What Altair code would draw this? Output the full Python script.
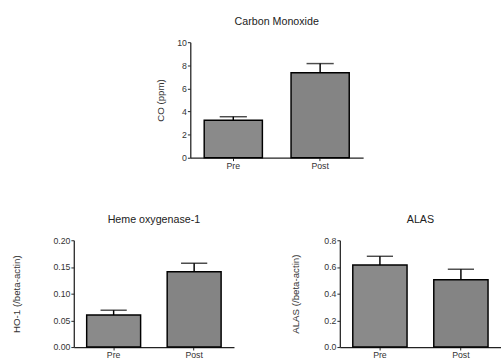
import altair as alt
import pandas as pd

groups = ["Pre", "Post"]
co_mean = [3.25, 7.35]
co_err = [3.55, 8.15]
ho_mean = [0.060, 0.141]
ho_err = [0.069, 0.157]
alas_mean = [0.615, 0.505]
alas_err = [0.680, 0.583]
co_ticks = [0, 2, 4, 6, 8, 10]
ho_ticks = [0, 0.05, 0.10, 0.15, 0.20]
alas_ticks = [0, 0.2, 0.4, 0.6, 0.8]
fills = ["#8a8a8a", "#848484"]

FONT = "Liberation Sans"
TXT = "#333333"


def panel(title, ytitle, means, errs, ticks, fmt, w, h, tpad, cap):
    df = pd.DataFrame({"group": groups, "mean": means, "err": errs, "fill": fills})
    xs = alt.X(
        "group:N",
        sort=groups,
        scale=alt.Scale(paddingInner=0.33, paddingOuter=0.16),
        axis=alt.Axis(title=None, labelAngle=0),
    )
    ys = alt.Y(
        "mean:Q",
        scale=alt.Scale(domain=[ticks[0], ticks[-1]], nice=False),
        axis=alt.Axis(title=ytitle, values=ticks, tickCount=len(ticks) + 1,
                      format=fmt, titlePadding=tpad),
    )
    base = alt.Chart(df).encode(x=xs)
    bars = base.mark_bar(stroke="black", strokeWidth=1.5).encode(
        y=ys, fill=alt.Fill("fill:N", scale=None)
    )
    rule = base.mark_rule(color="black", strokeWidth=1.5).encode(
        y="mean:Q", y2="err:Q"
    )
    capm = base.mark_tick(color="black", thickness=1.5, size=cap).encode(
        y="err:Q"
    )
    return alt.layer(bars, rule, capm).properties(
        width=w, height=h,
        title=alt.TitleParams(title, fontSize=11, font=FONT, fontWeight="normal",
                              color="#222222", anchor="middle", offset=12),
    )


top = panel("Carbon Monoxide", "CO (ppm)", co_mean, co_err, co_ticks, "d", 178, 119, 12, 28)
ho = panel("Heme oxygenase-1", "HO-1 (/beta-actin)", ho_mean, ho_err, ho_ticks, ".2f", 165, 110, 32, 27)
alas = panel("ALAS", "ALAS (/beta-actin)", alas_mean, alas_err, alas_ticks, ".1f", 166, 110, 24, 27)

spacer = (
    alt.Chart(pd.DataFrame({"v": [0]}))
    .mark_point(opacity=0)
    .properties(width=83, height=1)
)

top_row = alt.hconcat(spacer, top, spacing=0)
bottom = alt.hconcat(ho, alas, spacing=58)
chart = (
    alt.vconcat(top_row, bottom, spacing=45)
    .properties(padding={"left": 12, "top": 11, "right": 0, "bottom": 0})
    .configure_view(stroke=None)
    .configure_axis(
        grid=False, labelOverlap=False, labelFlush=False,
        tickSize=3, labelPadding=1, labelFontSize=9, labelFont=FONT,
        labelColor=TXT, titleFont=FONT, titleFontSize=10,
        titleFontWeight="normal", titleColor=TXT,
        domainColor="#222222", tickColor="#222222", domainWidth=1.3,
    )
)
chart.save("out.html", embed_options={"renderer": "svg", "actions": False})
